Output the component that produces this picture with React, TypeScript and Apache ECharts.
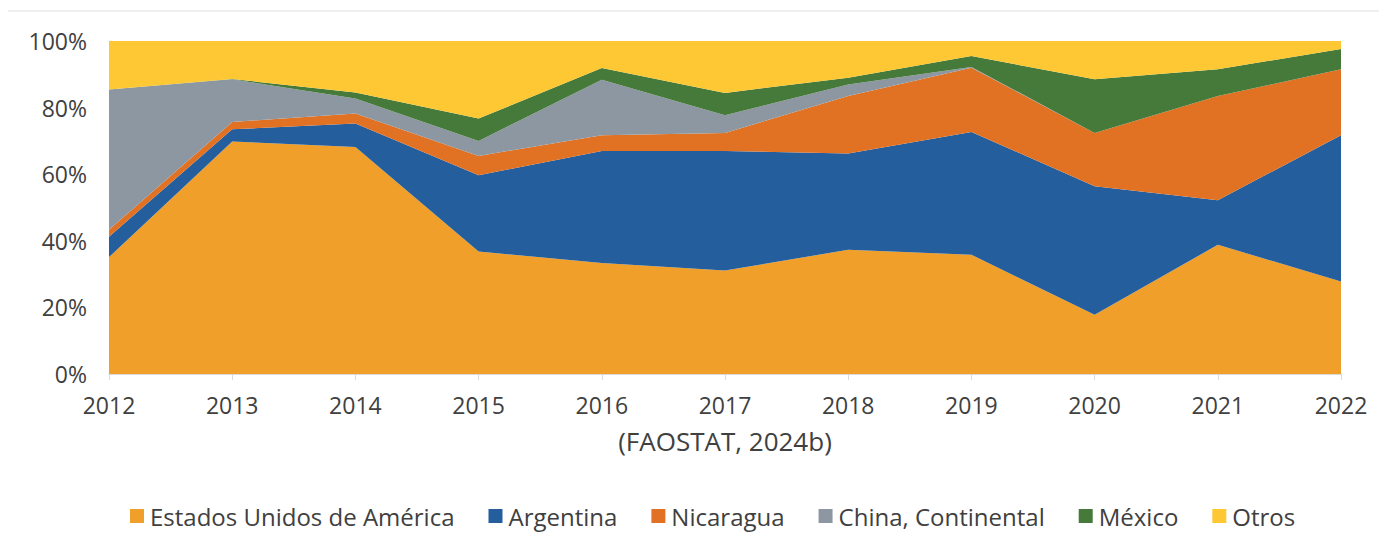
import React, { useEffect, useRef } from "react";
import * as echarts from "echarts";

const years = ["2012", "2013", "2014", "2015", "2016", "2017", "2018", "2019", "2020", "2021", "2022"];
const usa = [35.1, 69.8, 68.2, 36.8, 33.3, 31.1, 37.3, 35.8, 17.8, 38.8, 27.8];
const argentina = [6.1, 3.7, 7.0, 22.9, 33.7, 35.9, 28.9, 36.9, 38.6, 13.4, 43.9];
const nicaragua = [2.1, 2.2, 3.0, 5.8, 4.7, 5.4, 17.3, 19.3, 16.0, 31.3, 19.8];
const china = [42.1, 12.8, 4.5, 4.5, 16.7, 5.3, 3.4, 0.2, 0, 0, 0];
const mexico = [0, 0.1, 1.8, 6.7, 3.5, 6.7, 2.1, 3.3, 16.1, 8.0, 6.1];
const otros = [14.6, 11.4, 15.5, 23.3, 8.1, 15.6, 11.0, 4.5, 11.5, 8.5, 2.4];

const seriesNames = ["Estados Unidos de América", "Argentina", "Nicaragua", "China, Continental", "México", "Otros"];
const seriesData = [usa, argentina, nicaragua, china, mexico, otros];
const colors = ["#F0A02A", "#245E9C", "#E17224", "#8D97A1", "#467A3A", "#FDC833"];

const FONT = "'Open Sans', Lato, sans-serif";
const TEXT = "#404040";

export default function App() {
  const ref = useRef<HTMLDivElement>(null);
  useEffect(() => {
    if (!ref.current) return;
    const chart = echarts.init(ref.current, null, { renderer: "svg" });
    chart.setOption({
      animation: false,
      color: colors,
      textStyle: { fontFamily: FONT },
      graphic: [
        {
          type: "rect",
          shape: { x: -1, y: 3, width: 1420, height: 600 },
          style: { fill: "none", stroke: "#EAEAEA", lineWidth: 1.5 },
          silent: true,
        },
      ],
      grid: { left: 101, right: 38, top: 33, bottom: 167, containLabel: false },
      legend: {
        bottom: 8,
        left: 117,
        itemWidth: 14,
        itemHeight: 14,
        itemGap: 34,
        icon: "rect",
        textStyle: { color: TEXT, fontSize: 24, fontFamily: FONT, padding: [0, 0, 0, 1] },
        data: seriesNames,
      },
      xAxis: {
        type: "category",
        data: years,
        boundaryGap: false,
        name: "(FAOSTAT, 2024b)",
        nameLocation: "middle",
        nameGap: 54,
        nameTextStyle: { color: TEXT, fontSize: 26, fontFamily: FONT },
        axisLine: { lineStyle: { color: "#D9D9D9", width: 1 } },
        axisTick: { show: true, length: 6, lineStyle: { color: "#D9D9D9" } },
        axisLabel: { color: TEXT, fontSize: 23, margin: 19, fontFamily: FONT },
      },
      yAxis: {
        type: "value",
        min: 0,
        max: 100,
        interval: 20,
        axisLine: { show: false },
        axisTick: { show: false },
        splitLine: { show: false },
        axisLabel: { color: TEXT, fontSize: 23, margin: 22, formatter: "{value}%", fontFamily: FONT },
      },
      series: seriesNames.map((name, i) => ({
        name,
        type: "line",
        stack: "total",
        data: seriesData[i],
        symbol: "none",
        lineStyle: { width: 0 },
        areaStyle: { color: colors[i], opacity: 1 },
        itemStyle: { color: colors[i] },
      })),
    });
    return () => chart.dispose();
  }, []);
  return <div ref={ref} style={{ width: 1371, height: 533 }} />;
}
